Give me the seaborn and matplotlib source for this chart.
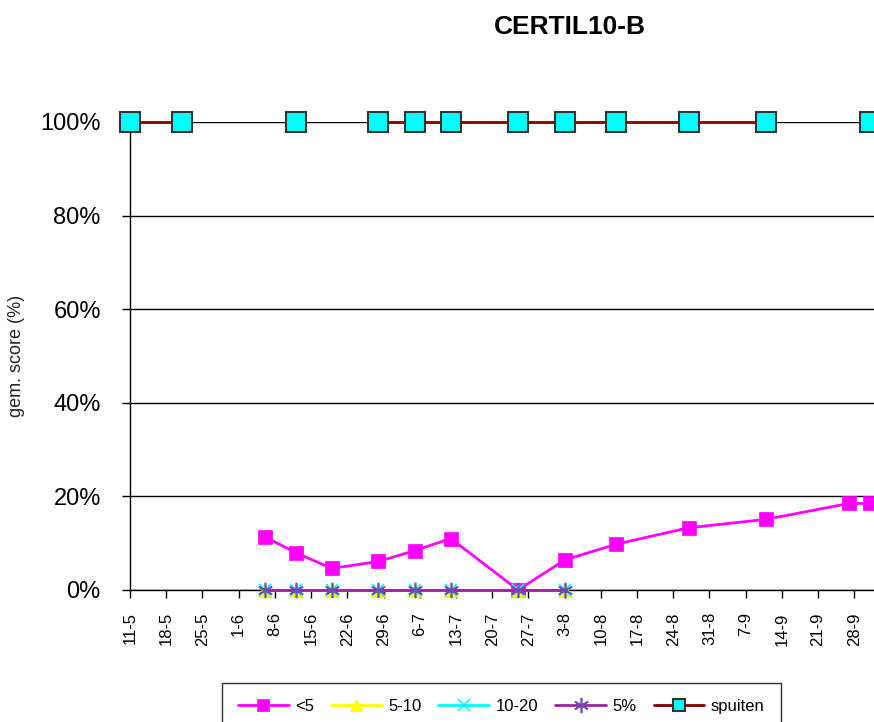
import matplotlib
matplotlib.use("Agg")
import matplotlib.pyplot as plt
import seaborn as sns
import pandas as pd
import numpy as np
from matplotlib.lines import Line2D

# data (score in %)
dates = ["2009-05-11", "2009-05-21", "2009-06-06", "2009-06-12", "2009-06-19",
         "2009-06-28", "2009-07-05", "2009-07-12", "2009-07-25", "2009-08-03",
         "2009-08-13", "2009-08-27", "2009-09-11", "2009-09-27", "2009-10-01"]
nan = np.nan
lt5 = [nan, nan, 11.4, 8.0, 4.6, 6.1, 8.4, 11.0, 0.0, 6.4, 9.8, 13.3, 15.1, 18.5, 18.5]
s5_10 = [nan, nan, 0, 0, 0, 0, 0, 0, 0, 0, nan, nan, nan, nan, nan]
s10_20 = [nan, nan, 0, 0, 0, 0, 0, 0, 0, 0, nan, nan, nan, nan, nan]
s5pct = [nan, nan, 0, 0, 0, 0, 0, 0, 0, 0, nan, nan, nan, nan, nan]
spuiten = [100, 100, nan, 100, nan, 100, 100, 100, 100, 100, 100, 100, 100, nan, 100]

series_names = ["<5", "5-10", "10-20", "5%", "spuiten"]
tick_start = "2009-05-11"
y_ticks = [0, 20, 40, 60, 80, 100]

df = pd.DataFrame({"datum": pd.to_datetime(dates), "<5": lt5, "5-10": s5_10,
                   "10-20": s10_20, "5%": s5pct, "spuiten": spuiten})


def pieces(col):
    # split on empty cells so the line breaks like in Excel
    d = df[["datum", col]].copy()
    d["seg"] = d[col].isna().cumsum()
    return d.dropna()


sns.set_theme(style="white")
plt.rcParams['font.family'] = ['Liberation Sans', 'DejaVu Sans']

fig = plt.figure(figsize=(8.74, 7.22), dpi=100)
W, H = 874, 722
ax = fig.add_axes([130 / W, 1 - 590 / H, 1 - 130 / W, (590 - 122) / H])

styles = {
    "<5": dict(color="#FF00FF", lw=2, marker="s", markersize=10.5,
               markerfacecolor="#FF00FF", markeredgecolor="#FF00FF", markeredgewidth=0.5),
    "5-10": dict(color="#FFFF00", lw=2, marker="^", markersize=10,
                 markerfacecolor="#FFFF00", markeredgecolor="#FFFF00", markeredgewidth=0.5),
    "10-20": dict(color="#00FFFF", lw=2, marker="x", markersize=9,
                  markeredgecolor="#00FFFF", markeredgewidth=1.2),
    "5%": dict(color="#A020A0", lw=2, marker=(6, 2, 0), markersize=11,
               markeredgecolor="#6A4FB8", markeredgewidth=1.2),
    "spuiten": dict(color="#800000", lw=2, marker="s", markersize=14,
                    markerfacecolor="#00FFFF", markeredgecolor="#333333", markeredgewidth=1.5),
}

for name in series_names:
    sns.lineplot(data=pieces(name), x="datum", y=name, units="seg", estimator=None,
                 ax=ax, clip_on=False, zorder=3, **styles[name])

ax.set_ylim(0, 100)
x0 = pd.Timestamp(tick_start)
ax.set_xlim(x0, x0 + pd.Timedelta(days=143.8))

tick_dates = pd.date_range(tick_start, periods=21, freq="7D")
ax.set_xticks(tick_dates)
ax.set_xticklabels([f"{d.day}-{d.month}" for d in tick_dates], rotation=90, fontsize=12)
ax.set_yticks(y_ticks)
ax.set_yticklabels([f"{v}%" for v in y_ticks], fontsize=17)
ax.tick_params(axis="both", direction="out", length=6, width=1, color="black",
               labelcolor="black", bottom=True, left=True)
ax.tick_params(axis="x", pad=10)
ax.tick_params(axis="y", pad=15)

ax.yaxis.grid(True, color="black", lw=1)
ax.xaxis.grid(False)
ax.set_axisbelow(True)
for s in ["top", "right"]:
    ax.spines[s].set_visible(False)
for s in ["left", "bottom"]:
    ax.spines[s].set_color("black")
    ax.spines[s].set_linewidth(1)
ax.set_xlabel("")
ax.set_ylabel("")

fig.text(17 / W, 1 - 356 / H, "gem. score (%)", rotation=90, ha="center", va="center",
         fontsize=13, color="#222222")
fig.text(570 / W, 1 - 27 / H, "CERTIL10-B", ha="center", va="center", fontsize=19,
         fontweight="bold", color="black")

handles = [Line2D([], [], **styles[n]) for n in series_names]
handles[0].set_markersize(8)
handles[1].set_markersize(8)
handles[4].set_markersize(9)
leg = fig.legend(handles, series_names, loc="upper left", bbox_to_anchor=(222 / W, 1 - 683 / H),
                 ncol=5, frameon=True, fancybox=False, edgecolor="black", fontsize=12,
                 handlelength=3.05, handletextpad=0.4, columnspacing=1.0, borderpad=0.95,
                 borderaxespad=0, labelcolor="black")
leg.get_frame().set_linewidth(1)

fig.savefig("out.png", dpi=100)
